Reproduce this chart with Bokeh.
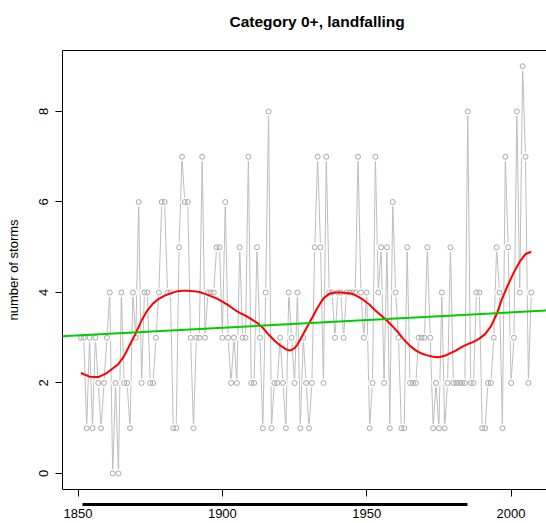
import numpy as np
from bokeh.plotting import figure
from bokeh.models import Range1d, LinearAxis, FixedTicker, Slope, Title, ColumnDataSource
from bokeh.embed import file_html
from bokeh.resources import INLINE

# ---- data ----
years = list(range(1851, 2008))
counts = [3, 3, 1, 3, 1, 3, 2, 1, 2, 3,   # 1851-1860
          4, 0, 2, 0, 4, 2, 2, 1, 4, 3,   # 1861-1870
          6, 2, 4, 4, 2, 2, 3, 4, 6, 6,   # 1871-1880
          4, 4, 1, 1, 5, 7, 6, 6, 3, 1,   # 1881-1890
          3, 3, 7, 3, 4, 4, 4, 5, 5, 3,   # 1891-1900
          6, 3, 2, 3, 2, 5, 3, 3, 7, 2,   # 1901-1910
          2, 5, 3, 1, 4, 8, 1, 2, 2, 3,   # 1911-1920
          2, 1, 4, 3, 2, 4, 1, 3, 2, 1,   # 1921-1930
          2, 5, 7, 5, 2, 7, 4, 4, 3, 4,   # 1931-1940
          4, 3, 4, 4, 4, 4, 7, 4, 3, 4,   # 1941-1950
          1, 2, 7, 4, 5, 2, 5, 1, 6, 4,   # 1951-1960
          3, 1, 1, 5, 2, 2, 2, 3, 3, 3,   # 1961-1970
          5, 3, 1, 2, 1, 4, 1, 2, 5, 2,   # 1971-1980
          2, 2, 2, 2, 8, 2, 2, 4, 4, 1,   # 1981-1990
          1, 2, 2, 3, 5, 4, 1, 7, 5, 2,   # 1991-2000
          3, 8, 4, 9, 7, 2, 4]            # 2001-2007

smooth_years = [1851, 1854, 1857, 1860, 1862, 1864, 1866, 1868, 1870, 1872,
                1874, 1876, 1878, 1880, 1882, 1884, 1886, 1888, 1890, 1892,
                1894, 1896, 1898, 1900, 1902, 1904, 1906, 1908, 1910, 1912,
                1914, 1916, 1918, 1920, 1922, 1923, 1924, 1925, 1926, 1927,
                1929, 1931, 1933, 1935, 1937, 1939, 1941, 1943, 1945, 1947,
                1949, 1951, 1953, 1955, 1957, 1959, 1961, 1963, 1965, 1967,
                1969, 1971, 1973, 1975, 1977, 1979, 1981, 1983, 1985, 1987,
                1989, 1991, 1993, 1995, 1997, 1999, 2001, 2003, 2005, 2007]
smooth_vals = [2.22, 2.14, 2.13, 2.22, 2.32, 2.42, 2.60, 2.85, 3.10, 3.38,
               3.60, 3.76, 3.86, 3.93, 3.98, 4.02, 4.04, 4.04, 4.03, 4.01,
               3.97, 3.92, 3.87, 3.80, 3.72, 3.63, 3.55, 3.49, 3.41, 3.33,
               3.22, 3.07, 2.94, 2.83, 2.75, 2.72, 2.73, 2.77, 2.85, 2.96,
               3.20, 3.43, 3.67, 3.87, 3.97, 4.00, 4.00, 3.99, 3.97, 3.91,
               3.83, 3.73, 3.60, 3.49, 3.38, 3.25, 3.11, 2.95, 2.82, 2.72,
               2.65, 2.61, 2.58, 2.57, 2.60, 2.66, 2.72, 2.80, 2.86, 2.91,
               2.98, 3.08, 3.25, 3.52, 3.88, 4.18, 4.45, 4.68, 4.85, 4.90]

trend_gradient = 0.0034
trend_intercept = -3.24

x_ticks = [1850, 1900, 1950, 2000]
y_ticks = [0, 2, 4, 6, 8]
bar_span = (1851.6, 1984.8)
spacer_tick = [1900]

FONT = "Liberation Sans"

p = figure(width=546, height=523,
           x_range=Range1d(1844.62, 2012.27), y_range=Range1d(-0.354, 9.348),
           output_backend="svg", toolbar_location=None,
           x_axis_location=None, y_axis_location=None,
           min_border_left=62, min_border_right=0, min_border_top=50,
           min_border_bottom=34)
p.outline_line_color = None
p.grid.visible = False
p.background_fill_color = "white"
p.border_fill_color = "white"

# left axis
yaxis = LinearAxis(ticker=FixedTicker(ticks=y_ticks), axis_label="number of storms",
                   major_label_orientation="vertical",
                   major_tick_out=7, major_tick_in=0, minor_tick_out=0, minor_tick_in=0,
                   axis_line_color="black", major_tick_line_color="black",
                   major_label_text_font=FONT, major_label_text_font_size="13px",
                   major_label_text_color="black",
                   axis_label_text_font=FONT, axis_label_text_font_size="13px",
                   axis_label_text_font_style="normal", axis_label_text_color="black",
                   major_label_standoff=7, axis_label_standoff=16)
p.add_layout(yaxis, "left")

# top border (an invisible tick spaces the title upward)
top_axis = LinearAxis(ticker=FixedTicker(ticks=spacer_tick), major_tick_out=16, major_tick_in=0,
                      major_tick_line_color=None,
                      major_label_text_font_size="1px", major_label_text_color=None,
                      major_label_standoff=0, axis_line_color="black")
p.add_layout(top_axis, "above")

# bottom: ticks, spacer, thick bar, then labels
x_tick_axis = LinearAxis(ticker=FixedTicker(ticks=x_ticks), major_tick_out=7, major_tick_in=0,
                         major_label_text_font_size="1px", major_label_text_color=None,
                         major_label_standoff=0, axis_line_color="black",
                         major_tick_line_color="black")
p.add_layout(x_tick_axis, "below")

spacer_axis = LinearAxis(ticker=FixedTicker(ticks=spacer_tick), major_tick_out=8, major_tick_in=0,
                         major_tick_line_color=None, axis_line_color=None,
                         major_label_text_font_size="1px", major_label_text_color=None,
                         major_label_standoff=0)
p.add_layout(spacer_axis, "below")

bar_axis = LinearAxis(ticker=FixedTicker(ticks=[]), bounds=bar_span, major_tick_out=0,
                      major_tick_in=0, major_label_text_font_size="1px",
                      major_label_text_color=None,
                      major_label_standoff=0, axis_line_width=3, axis_line_color="black")
p.add_layout(bar_axis, "below")

x_label_axis = LinearAxis(ticker=FixedTicker(ticks=x_ticks), major_tick_out=0, major_tick_in=0,
                          axis_line_color=None, major_label_standoff=4,
                          major_label_text_font=FONT, major_label_text_font_size="13px",
                          major_label_text_color="black")
p.add_layout(x_label_axis, "below")

p.add_layout(Title(text="Category 0+, landfalling", align="left", offset=167,
                   text_font=FONT, text_font_size="15.5px", text_font_style="bold",
                   text_color="black", standoff=10), "above")

src = ColumnDataSource(dict(year=years, count=counts))
p.line("year", "count", source=src, line_color="#BEBEBE", line_width=1)
p.scatter("year", "count", source=src, marker="circle", size=9,
          fill_color="white", line_color=None)
p.scatter("year", "count", source=src, marker="circle", size=5,
          fill_color=None, line_color="#A8A8A8", line_width=1)

p.add_layout(Slope(gradient=trend_gradient, y_intercept=trend_intercept,
                   line_color="#00CD00", line_width=2))

p.line(smooth_years, smooth_vals, line_color="#FF0000", line_width=2)

open("out.html", "w").write(file_html(p, INLINE))
